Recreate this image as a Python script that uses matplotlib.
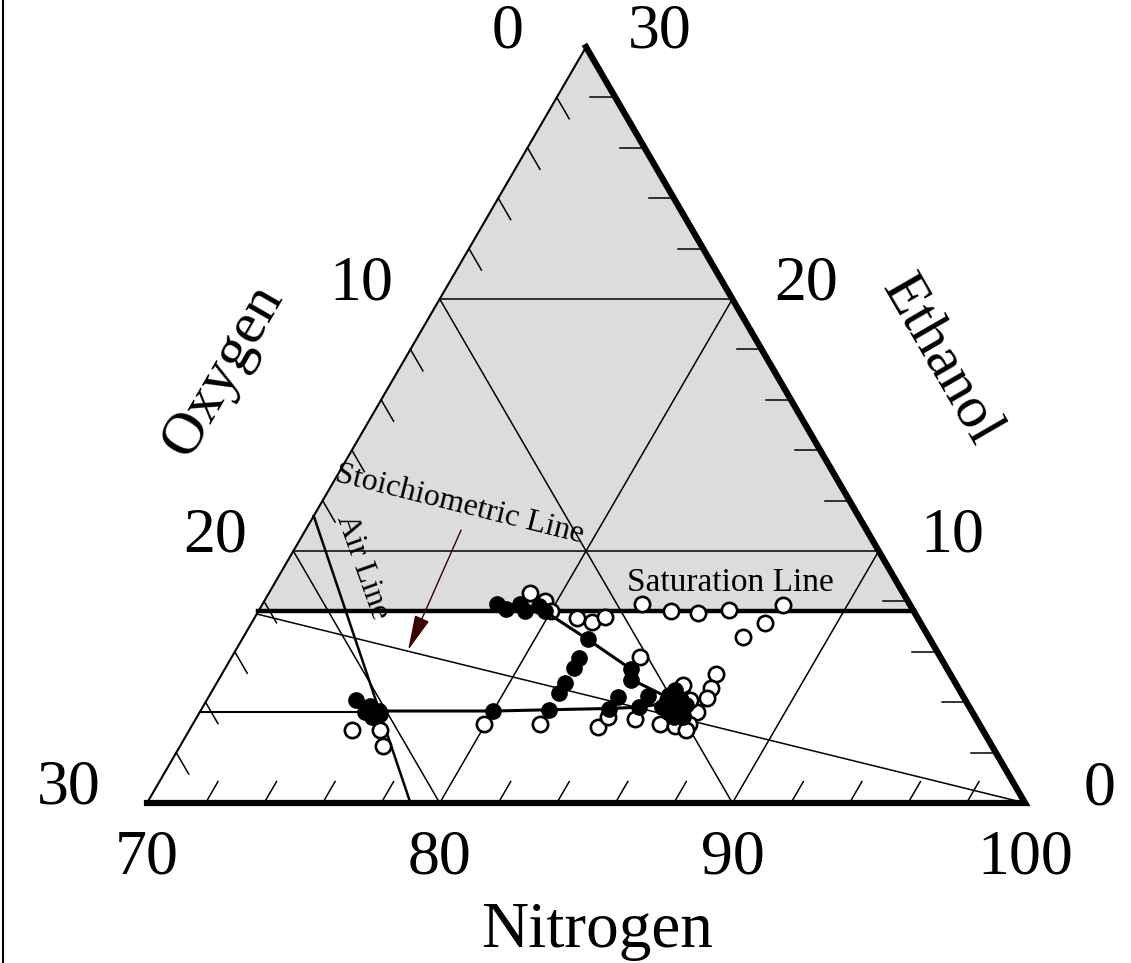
import matplotlib
matplotlib.use('Agg')
import matplotlib.pyplot as plt
from matplotlib.lines import Line2D
import numpy as np

plt.rcParams['font.family'] = ['Liberation Serif', 'DejaVu Serif']

# ternary window: nitrogen 70-100, oxygen 0-30, ethanol 0-30 (%)
N_MIN = 70
SPAN = 30
GRID = [10, 20]
SAT_ETHANOL = 7.6            # saturation line
AIR_O2_PER_N2 = 21 / 79      # air line
STOICH_O2_PER_ETOH = 3.0     # C2H5OH + 3 O2 -> 2 CO2 + 3 H2O
FEED_ETHANOL = 3.6           # horizontal line from the oxygen axis

n_labels = ['70', '80', '90', '100']
o_labels = ['0', '10', '20', '30']
e_labels = ['30', '20', '10', '0']

# filled symbols joined by lines (nitrogen %, ethanol %)
run_top_n = [78.0, 78.4, 78.8, 79.1, 79.5, 79.8, 81.8, 83.9, 84.1, 85.9]
run_top_e = [7.9, 7.7, 7.9, 7.6, 7.8, 7.6, 6.5, 5.3, 4.9, 4.1]
run_low_n = [75.65, 76.1, 80.0, 81.9, 83.9, 84.9, 85.9]
run_low_e = [3.6, 3.65, 3.65, 3.7, 3.75, 3.8, 4.0]

# other filled symbols
fill_n = [81.9, 81.9, 81.9, 81.9, 75.1, 75.7, 76.0, 76.2, 84.0, 85.0,
          85.7, 85.7, 85.8, 86.2, 86.05, 86.0, 86.3, 86.45, 86.3, 86.6, 85.7]
fill_e = [5.75, 5.35, 4.75, 4.35, 4.1, 3.85, 3.4, 3.55, 4.2, 4.25,
          4.1, 4.3, 4.5, 4.1, 3.75, 3.6, 3.6, 3.9, 3.4, 3.4, 3.8]

# open symbols
open_n = [78.9, 79.6, 80.0, 81.0, 81.6, 81.95, 82.95, 84.1, 85.05, 86.05, 87.8,
          87.55, 87.05, 83.95, 85.95, 86.9, 87.0, 87.05, 87.0, 86.5, 79.95, 81.85,
          83.9, 84.05, 85.0, 85.95, 86.5, 86.95, 86.95, 75.55, 76.5, 76.95]
open_e = [8.35, 8.0, 7.6, 7.35, 7.2, 7.4, 7.9, 7.6, 7.55, 7.65, 7.85,
          7.15, 6.6, 5.8, 4.7, 5.1, 4.55, 4.15, 3.6, 4.1, 3.15, 3.15,
          3.0, 3.4, 3.35, 3.15, 3.05, 3.15, 2.9, 2.9, 2.9, 2.25]


def txy(n, e):
    n = np.asarray(n, float)
    e = np.asarray(e, float)
    return n - N_MIN + e / 2, e


fig = plt.figure(figsize=(11.31, 9.63), dpi=100)
ax = fig.add_axes([0, 0, 1, 1])
ax.set_xlim(-147 / 29.27, (1131 - 147) / 29.27)
ax.set_ylim((803 - 963) / 25.2, 803 / 25.2)
ax.axis('off')

# shaded region above the saturation line
sx, sy = txy([N_MIN, 100 - SAT_ETHANOL, N_MIN],
             [SAT_ETHANOL, SAT_ETHANOL, SPAN])
ax.fill(sx, sy, color='#dcdcdc', lw=0, zorder=0)

thin = dict(color='black', lw=1.1, zorder=1)
# grid
for g in GRID:
    ax.plot(*txy([N_MIN, 100 - g], [g, g]), **thin)                 # ethanol
    ax.plot(*txy([N_MIN + g, N_MIN + g], [0, SPAN - g]), **thin)     # nitrogen
    ax.plot(*txy([N_MIN, 100 - g], [SPAN - g, 0]), **thin)           # oxygen

# ticks every 2 %
d = 0.85
for v in range(2, SPAN, 2):
    if v % 10 == 0:
        continue
    ax.plot(*txy([N_MIN + v, N_MIN + v], [0, d]), **thin)
    ax.plot(*txy([N_MIN, N_MIN + d], [SPAN - v, SPAN - v - d]), **thin)
    ax.plot(*txy([100 - v, 100 - v - d], [v, v]), **thin)

# triangle edges
ax.plot(*txy([N_MIN, N_MIN], [0, SPAN]), color='black', lw=1.5, zorder=2)
ax.plot(*txy([N_MIN, 100, N_MIN], [0, 0, SPAN]), color='black', lw=4.5,
        solid_joinstyle='miter', zorder=2)

# saturation line
ax.plot(*txy([N_MIN, 100 - SAT_ETHANOL], [SAT_ETHANOL] * 2),
        color='black', lw=3.2, zorder=2)

# air line: O2/N2 fixed
air_e0 = SPAN - N_MIN * AIR_O2_PER_N2
air_n1 = 100 / (1 + AIR_O2_PER_N2)
ax.plot(*txy([N_MIN, air_n1], [air_e0, 0]), color='black', lw=1.8, zorder=2)

# stoichiometric line: O2/ethanol fixed
st_e0 = SPAN / (1 + STOICH_O2_PER_ETOH)
ax.plot(*txy([N_MIN, 100], [st_e0, 0]), color='black', lw=1.1, zorder=2)

# horizontal line from the oxygen axis
ax.plot(*txy([N_MIN, run_low_n[0]], [FEED_ETHANOL, run_low_e[0]]),
        color='black', lw=1.5, zorder=2)

# data
ms = 11
ax.plot(*txy(open_n, open_e), 'o', ms=ms, mfc='white', mec='black', mew=1.9,
        ls='none', zorder=3)
ax.plot(*txy(run_top_n, run_top_e), '-o', color='black', lw=2.2, ms=ms, zorder=4)
ax.plot(*txy(run_low_n, run_low_e), '-o', color='black', lw=2.2, ms=ms, zorder=4)
ax.plot(*txy(fill_n, fill_e), 'o', color='black', ms=ms, ls='none', zorder=4)

# annotations
ax.annotate('', xy=(8.92, 6.07), xytext=(10.73, 10.83),
            arrowprops=dict(arrowstyle='-|>,head_length=1.0,head_width=0.22',
                            color='#3a0000', lw=1.0, mutation_scale=22,
                            shrinkA=0, shrinkB=0), zorder=5)
fig.text(460 / 1131, 1 - 505 / 963, 'Stoichiometric Line', fontsize=23,
         rotation=-14, ha='center', va='center', rotation_mode='anchor')
fig.text(730 / 1131, 1 - 583 / 963, 'Saturation Line', fontsize=24,
         ha='center', va='center')
fig.text(362 / 1131, 1 - 567 / 963, 'Air Line', fontsize=23,
         rotation=-70.5, ha='center', va='center', rotation_mode='anchor')

# tick labels
big = 46
for i, lab in enumerate(n_labels):
    ax.annotate(lab, xy=txy(N_MIN + 10 * i, 0), xytext=(0, -55),
                textcoords='offset pixels', ha='center', va='center', fontsize=big)
for i, lab in enumerate(o_labels):
    ax.annotate(lab, xy=txy(N_MIN, SPAN - 10 * i), xytext=(-78, 15),
                textcoords='offset pixels', ha='center', va='center', fontsize=big)
for i, lab in enumerate(e_labels):
    e = SPAN - 10 * i
    ax.annotate(lab, xy=txy(100 - e, e), xytext=(74, 14),
                textcoords='offset pixels', ha='center', va='center', fontsize=big)

# axis titles
fig.text(597 / 1131, 1 - 947 / 963, 'Nitrogen', fontsize=47, ha='center',
         va='baseline')
fig.text(223 / 1131, 1 - 370 / 963, 'Oxygen', fontsize=43, rotation=60,
         ha='center', va='center', rotation_mode='anchor')
fig.text(940 / 1131, 1 - 360 / 963, 'Ethanol', fontsize=43, rotation=-60,
         ha='center', va='center', rotation_mode='anchor')

# left frame edge
fig.add_artist(Line2D([3 / 1131, 3 / 1131], [0, 1], transform=fig.transFigure,
                      color='black', lw=1.5))

fig.savefig('out.png', dpi=100)
